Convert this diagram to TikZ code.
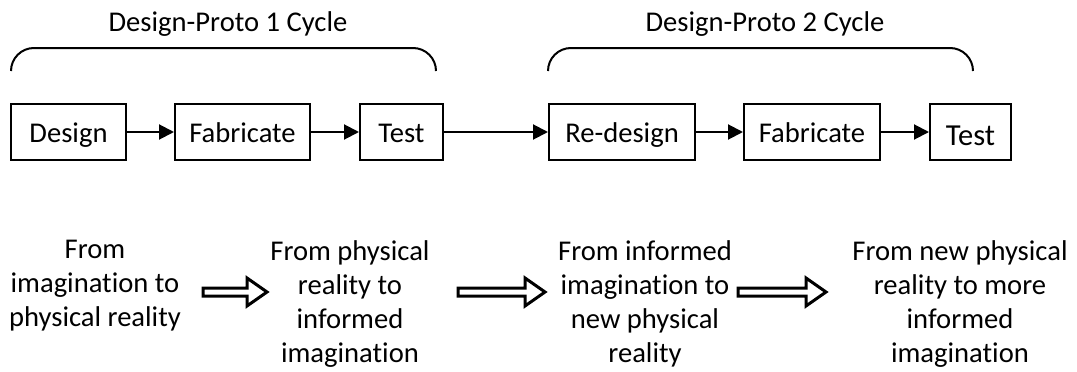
\documentclass[tikz,border=0pt]{standalone}
\usepackage{fontspec}
\setmainfont{Carlito}[Ligatures=NoCommon]
\usetikzlibrary{arrows.meta,positioning}
\newcommand{\diagfont}{\fontsize{28.6}{34}\selectfont}
\newcommand{\diagbigfont}{\fontsize{30.5}{36}\selectfont}
\newcommand{\fatarrow}[2]{\draw[fat] (#1) ++(0,-4) -- ++({#2-20},0) -- ++(0,-10) -- ++(20,14) -- ++(-20,14) -- ++(0,-10) -- ++({20-#2},0) -- cycle;}

\begin{document}
\begin{tikzpicture}[x=1pt, y=-1pt,
        stage/.style={draw, line width=2pt, minimum height=56pt, inner xsep=14pt, inner ysep=0pt, text height=21pt, text depth=0pt, font=\diagfont},
        cyclename/.style={anchor=base, inner sep=0pt, font=\diagfont},
        phase/.style={align=center, anchor=north, inner sep=0pt, font=\diagfont},
        arr/.style={-{Triangle[length=15pt,width=15pt]}, line width=2pt},
        brace/.style={line width=2pt, rounded corners=23pt},
        fat/.style={line width=3pt, line join=miter},
        node distance=47pt
      ]
      \useasboundingbox (0,0) rectangle (1077,372);

      \node[stage, minimum width=115pt] (design) at (68.5,132) {Design};
      \node[stage, minimum width=135pt, right=of design] (fab1) {Fabricate};
      \node[stage, minimum width=83pt, right=48pt of fab1] (test1) {Test};
      \node[stage, minimum width=146pt, right=104pt of test1] (redesign) {Re-design};
      \node[stage, minimum width=136pt, right=of redesign] (fab2) {Fabricate};
      \node[stage, minimum width=81pt, right=48pt of fab2, font=\diagbigfont, text height=26pt] (test2) {Test};

      \draw[arr] (design) -- (fab1);
      \draw[arr] (fab1) -- (test1);
      \draw[arr] (test1) -- (redesign);
      \draw[arr] (redesign) -- (fab2);
      \draw[arr] (fab2) -- (test2);

      \draw[brace] (11,71) |- (223.5,48) -| (436,71);
      \draw[brace] (548,71) |- (760.5,48) -| (973,71);
      \node[cyclename] (cycle1) at (228,31) {Design-Proto 1 Cycle};
      \node[cyclename] (cycle2) at (765,31) {Design-Proto 2 Cycle};

      \node[phase] (ph1) at (95,240) {From\\imagination to\\physical reality};
      \node[phase] (ph2) at (350,240) {From physical\\reality to\\informed\\imagination};
      \node[phase] (ph3) at (645,240) {From informed\\imagination to\\new physical\\reality};
      \node[phase] (ph4) at (960,240) {From new physical\\reality to more\\informed\\imagination};

      \coordinate (h1) at (203,292);
      \coordinate (h2) at (458,292);
      \coordinate (h3) at (738,292);
      \fatarrow{h1}{64}
      \fatarrow{h2}{87}
      \fatarrow{h3}{88}
    \end{tikzpicture}
\end{document}
